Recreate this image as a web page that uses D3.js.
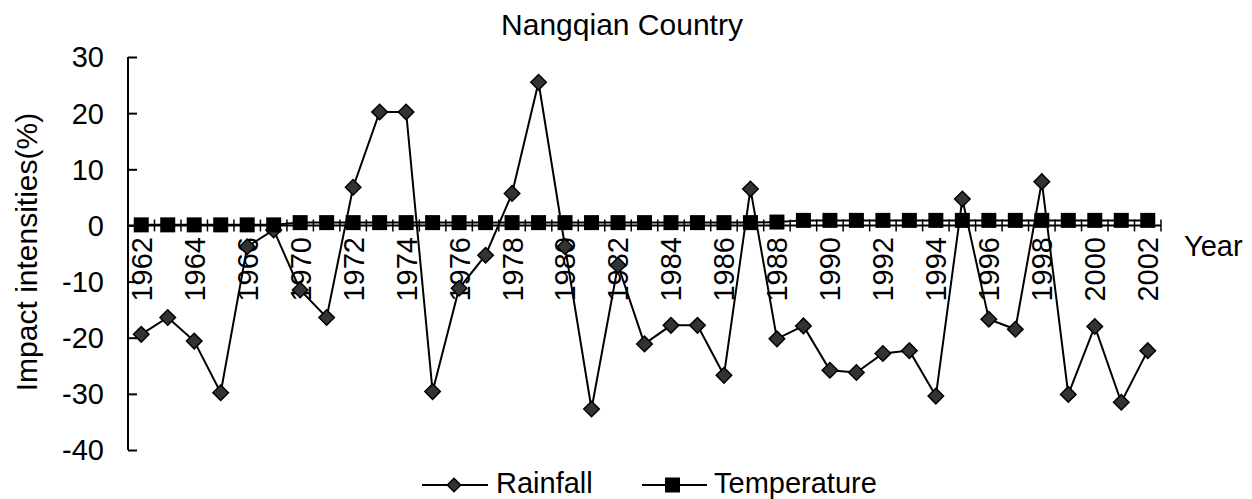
<!DOCTYPE html>
<html>
<head>
<meta charset="utf-8">
<script src="https://cdn.jsdelivr.net/npm/d3@7"></script>
<style>
  html, body { margin: 0; padding: 0; background: #fff; }
  svg { display: block; font-family: "Liberation Sans", Arial, sans-serif; }
</style>
</head>
<body>
<div id="chart"></div>
<script>
// Nangqian Country - impact intensities of rainfall and temperature

const years = ['1962', '1963', '1964', '1965', '1966', '1968', '1970', '1971', '1972', '1973',
    '1974', '1975', '1976', '1977', '1978', '1979', '1980', '1981', '1982', '1983',
    '1984', '1985', '1986', '1987', '1988', '1989', '1990', '1991', '1992', '1993',
    '1994', '1995', '1996', '1997', '1998', '1999', '2000', '2001', '2002'];

const rainfall = [-19.4, -16.4, -20.6, -29.8, -3.8, -0.8, -11.5, -16.4, 6.8, 20.2,
    20.2, -29.6, -11.2, -5.3, 5.7, 25.5, -3.8, -32.7, -7.1, -21.1,
    -17.8, -17.8, -26.7, 6.5, -20.2, -17.9, -25.8, -26.2, -22.8, -22.3,
    -30.4, 4.7, -16.7, -18.5, 7.8, -30.1, -18.0, -31.5, -22.3];

const temperature = [0.1, 0.1, 0.1, 0.1, 0.1, 0.1, 0.5, 0.5, 0.5, 0.5,
    0.5, 0.5, 0.5, 0.5, 0.5, 0.5, 0.5, 0.5, 0.5, 0.5,
    0.5, 0.5, 0.5, 0.5, 0.6, 0.9, 0.9, 0.9, 0.9, 0.9,
    0.9, 0.9, 0.9, 0.9, 0.9, 0.9, 0.9, 0.9, 0.9];

const yTicks = [30, 20, 10, 0, -10, -20, -30, -40];

const width = 1252, height = 499;
const plotLeft = 128, plotRight = 1161, plotTop = 57, plotBottom = 450;

const svg = d3.select('#chart')
    .append('svg')
    .attr('width', width)
    .attr('height', height);

const x = d3.scaleBand()
    .domain(years)
    .range([plotLeft, plotRight])
    .padding(0);

const y = d3.scaleLinear()
    .domain([-40, 30])
    .range([plotBottom, plotTop]);

const cx = d => x(d) + x.bandwidth() / 2;

// Title
svg.append('text')
    .attr('x', 622)
    .attr('y', 35)
    .attr('text-anchor', 'middle')
    .attr('font-size', '30px')
    .text('Nangqian Country');

// Y axis
const yAxis = svg.append('g')
    .attr('transform', `translate(${plotLeft},0)`)
    .call(d3.axisRight(y).tickValues(yTicks).tickSize(9).tickFormat(''));
yAxis.select('.domain').attr('stroke', '#000').attr('stroke-width', 2)
    .attr('d', `M0,${plotTop}V${plotBottom}`);
yAxis.selectAll('.tick line').attr('stroke', '#000').attr('stroke-width', 2);

svg.append('g')
    .selectAll('text')
    .data(yTicks)
    .enter().append('text')
    .attr('x', 104)
    .attr('y', d => y(d))
    .attr('dy', '0.36em')
    .attr('text-anchor', 'end')
    .attr('font-size', '29px')
    .text(d => d);

svg.append('text')
    .attr('transform', `translate(37,${252}) rotate(-90)`)
    .attr('text-anchor', 'middle')
    .attr('font-size', '30px')
    .text('Impact intensities(%)');

// X axis at zero, ticks crossing the line at category boundaries
const y0 = y(0);
svg.append('line')
    .attr('x1', plotLeft).attr('x2', plotRight)
    .attr('y1', y0).attr('y2', y0)
    .attr('stroke', '#000').attr('stroke-width', 2);

const bounds = years.map(d => x(d)).concat([plotRight]);
svg.append('g')
    .selectAll('line')
    .data(bounds)
    .enter().append('line')
    .attr('x1', d => d).attr('x2', d => d)
    .attr('y1', y0 - 6).attr('y2', y0 + 6)
    .attr('stroke', '#000').attr('stroke-width', 1.5);

svg.append('g')
    .selectAll('text')
    .data(years.filter((d, i) => i % 2 === 0))
    .enter().append('text')
    .attr('transform', d => `translate(${cx(d)},237) rotate(-90)`)
    .attr('dy', '0.36em')
    .attr('text-anchor', 'end')
    .attr('font-size', '29px')
    .text(d => d);

svg.append('text')
    .attr('x', 1184)
    .attr('y', 256)
    .attr('font-size', '29px')
    .text('Year');

// Rainfall series
const line = d3.line()
    .x((d, i) => cx(years[i]))
    .y(d => y(d));

svg.append('path')
    .datum(rainfall)
    .attr('fill', 'none')
    .attr('stroke', '#000')
    .attr('stroke-width', 2)
    .attr('d', line);

const diamond = d3.symbol().type(d3.symbolSquare).size(120);
svg.append('g')
    .selectAll('path')
    .data(rainfall)
    .enter().append('path')
    .attr('d', diamond)
    .attr('transform', (d, i) => `translate(${cx(years[i])},${y(d)}) rotate(45)`)
    .attr('fill', '#333')
    .attr('stroke', '#000')
    .attr('stroke-width', 1.5);

// Temperature series
svg.append('path')
    .datum(temperature)
    .attr('fill', 'none')
    .attr('stroke', '#000')
    .attr('stroke-width', 2)
    .attr('d', line);

svg.append('g')
    .selectAll('rect')
    .data(temperature)
    .enter().append('rect')
    .attr('x', (d, i) => cx(years[i]) - 7.5)
    .attr('y', d => y(d) - 7.5)
    .attr('width', 15)
    .attr('height', 15)
    .attr('fill', '#000');

// Legend
const legend = svg.append('g');
const ly = 485;

legend.append('line')
    .attr('x1', 422).attr('x2', 488).attr('y1', ly).attr('y2', ly)
    .attr('stroke', '#000').attr('stroke-width', 2);
legend.append('path')
    .attr('d', d3.symbol().type(d3.symbolSquare).size(90))
    .attr('transform', `translate(454,${ly}) rotate(45)`)
    .attr('fill', '#333').attr('stroke', '#000').attr('stroke-width', 1.5);
legend.append('text')
    .attr('x', 496).attr('y', 493)
    .attr('font-size', '29px')
    .text('Rainfall');

legend.append('line')
    .attr('x1', 642).attr('x2', 707).attr('y1', ly).attr('y2', ly)
    .attr('stroke', '#000').attr('stroke-width', 2);
legend.append('rect')
    .attr('x', 665).attr('y', ly - 7.5)
    .attr('width', 15).attr('height', 15)
    .attr('fill', '#000');
legend.append('text')
    .attr('x', 714).attr('y', 493)
    .attr('font-size', '29px')
    .text('Temperature');
</script>
</body>
</html>
